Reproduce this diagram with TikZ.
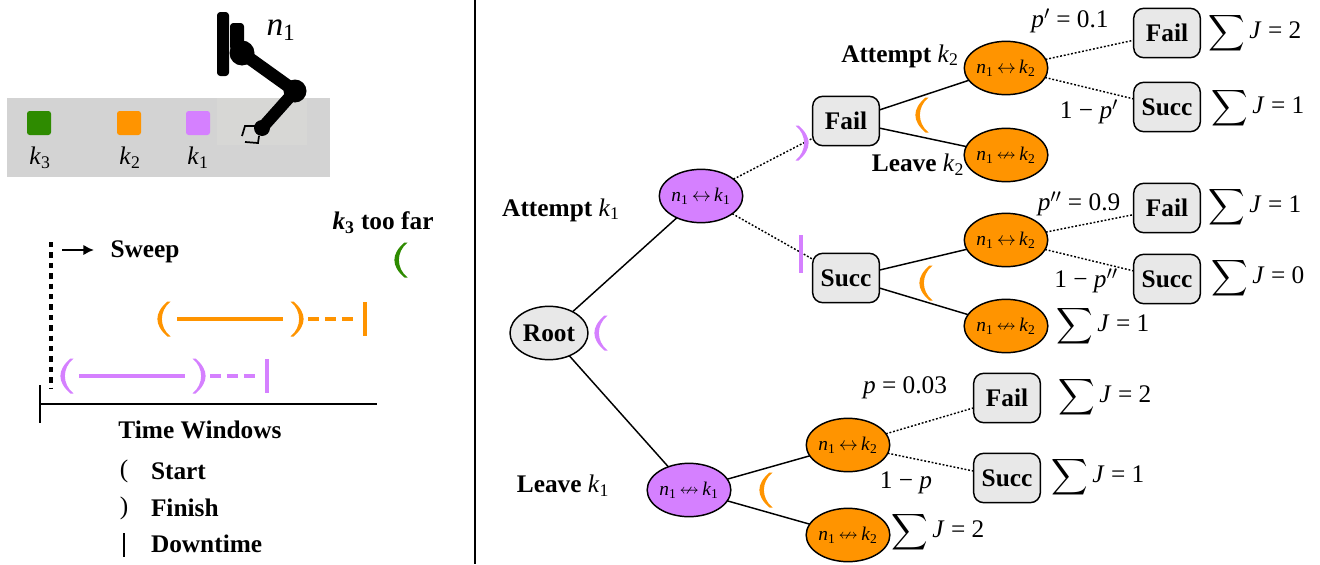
\documentclass[tikz,border=0pt]{standalone}
\usepackage{amssymb}
\usepackage{fontspec}
\setmainfont{Liberation Serif}
\usetikzlibrary{shapes.geometric,arrows.meta}
\definecolor{kgreen}{HTML}{2E8B00}
\definecolor{korange}{HTML}{FF9400}
\definecolor{kpurple}{HTML}{D580FF}
\definecolor{nodegray}{HTML}{E8E8E8}
\definecolor{bandgray}{HTML}{D3D3D3}
\definecolor{bandlight}{HTML}{D7D7D5}
\newcommand\iv[2]{\textit{#1}\textsubscript{#2}}
\newcommand\linked[1]{\iv{n}{1}\,$\leftrightarrow$\,\iv{k}{#1}}
\newcommand\unlinked[1]{\iv{n}{1}\,$\nleftrightarrow$\,\iv{k}{#1}}
\newcommand\cost[1]{$\displaystyle\sum$\,\textit{J} = #1}
\tikzset{
  x=0.75pt,y=-0.75pt,
  every node/.style={inner sep=0pt,outer sep=0pt,font=\fontsize{19}{22}\selectfont},
  label/.style={font=\fontsize{19}{22}\selectfont\bfseries},
  plain/.style={font=\fontsize{19}{22}\selectfont},
  decision/.style={draw=black,line width=1.1pt,ellipse,minimum width=58.5pt,minimum height=40pt,font=\fontsize{14.5}{16}\selectfont},
  decisiona/.style={decision,fill=kpurple},
  decisionb/.style={decision,fill=korange},
  rootnode/.style={decision,fill=nodegray,font=\fontsize{19}{22}\selectfont\bfseries},
  outcome/.style={draw=black,line width=1.1pt,rounded corners=7.5pt,fill=nodegray,minimum width=50pt,minimum height=37pt,font=\fontsize{19}{22}\selectfont\bfseries},
  choice/.style={draw=black,line width=1.1pt},
  chance/.style={draw=black,line width=1.1pt,dash pattern=on 1.4pt off 1.4pt},
  bar/.style={line width=3.2pt},
  span/.style={line width=2.6pt},
  gap/.style={line width=2.6pt,dash pattern=on 8pt off 4.7pt},
  pics/lbracket/.style={code={
    \fill[#1] (4.5,-17.5) .. controls (-7,-8) and (-7,8) .. (4.5,17.5)
      -- (1.5,17.5) .. controls (-12,6) and (-12,-6) .. (1.5,-17.5) -- cycle;}},
  pics/rbracket/.style={code={
    \fill[#1] (-4.5,-17.5) .. controls (7,-8) and (7,8) .. (-4.5,17.5)
      -- (-1.5,17.5) .. controls (12,6) and (12,-6) .. (-1.5,-17.5) -- cycle;}},
}
\begin{document}
\begin{tikzpicture}
\useasboundingbox (0,0) rectangle (1320,564);

% work surface with the three items
\fill[bandgray] (7,98) rectangle (330,177);
\fill[bandlight] (217,98) rectangle (307,145);
\fill[kgreen,rounded corners=2pt] (27,111) rectangle (51,135);
\fill[korange,rounded corners=2pt] (117,111) rectangle (141,135);
\fill[kpurple,rounded corners=2pt] (186,111) rectangle (210,135);
\node[plain] (k3) at (40,158) {\iv{k}{3}};
\node[plain] (k2) at (130,158) {\iv{k}{2}};
\node[plain] (k1) at (198,158) {\iv{k}{1}};

% robot arm
\fill[black,rounded corners=2.5pt] (217,12) rectangle (229,76);
\fill[black,rounded corners=2.5pt] (230,23) rectangle (244,50);
\draw[black,line width=9.5pt] (242,53) -- (295,91);
\draw[black,line width=9pt] (295,91) -- (262,128);
\fill[black] (242,53) circle [radius=12.5];
\fill[black] (295,91) circle [radius=11.5];
\fill[black] (262,128) circle [radius=8];
\draw[black,line width=1.3pt] (256,126) -- (245,126) -- (242,136);
\draw[black,line width=1.3pt] (259,136) -- (258,143) -- (245,142);
\node[font=\fontsize{25}{28}\selectfont] (n1) at (281,30) {\iv{n}{1}};

% sweep over the time windows
\draw[black,line width=2.3pt,dash pattern=on 4pt off 3.8pt] (51,242) -- (51,388);
\draw[black,line width=1.7pt,-{Latex[length=8pt,width=8pt]}] (62,250) -- (94,250);
\node[label] (sweep) at (145,252) {Sweep};
\node[label] (toofar) at (383,223) {\iv{k}{3} too far};
\pic at (403,260) {lbracket=kgreen};

\pic at (166,319) {lbracket=korange};
\draw[korange,span] (177,319) -- (283,319);
\pic at (295,319) {rbracket=korange};
\draw[korange,gap] (308,319) -- (354,319);
\draw[korange,bar] (365,302) -- (365,336);

\pic at (69,376) {lbracket=kpurple};
\draw[kpurple,span] (79,376) -- (185,376);
\pic at (197,376) {rbracket=kpurple};
\draw[kpurple,gap] (210,376) -- (256,376);
\draw[kpurple,bar] (267,359) -- (267,393);

\draw[black,line width=2.2pt] (40,404) -- (377,404);
\draw[black,line width=2.2pt] (40,385) -- (40,423);
\node[label] (windows) at (200,430) {Time Windows};

% legend of the window marks
\node[plain] (ls) at (124,471) {(};
\node[label,anchor=west] (start) at (151,471) {Start};
\node[plain] (lf) at (124,508) {)};
\node[label,anchor=west] (finish) at (151,508) {Finish};
\draw[black,line width=1pt] (124,533) -- (124,557);
\node[label,anchor=west] (down) at (151,544) {Downtime};

\draw[black,line width=0.8pt] (475,0) -- (475,564);

% decision tree
\node[rootnode] (root) at (549,333) {Root};
\node[decisiona] (a1) at (701,196) {\linked{1}};
\node[decisiona] (l1) at (689,490) {\unlinked{1}};
\node[outcome] (f1) at (846,121) {Fail};
\node[outcome] (s1) at (846,278) {Succ};
\node[decisionb] (a2) at (1006,68) {\linked{2}};
\node[decisionb] (l2) at (1006,155) {\unlinked{2}};
\node[decisionb] (a3) at (1006,240) {\linked{2}};
\node[decisionb] (l3) at (1006,326) {\unlinked{2}};
\node[decisionb] (a4) at (848,445) {\linked{2}};
\node[decisionb] (l4) at (848,535) {\unlinked{2}};
\node[outcome] (ff) at (1167,33) {Fail};
\node[outcome] (fs) at (1167,107) {Succ};
\node[outcome] (sf) at (1167,208) {Fail};
\node[outcome] (ss) at (1167,279) {Succ};
\node[outcome] (lf2) at (1007,398) {Fail};
\node[outcome] (ls2) at (1007,478) {Succ};

\draw[choice] (root) -- (a1);
\draw[choice] (root) -- (l1);
\draw[chance] (a1) -- (f1);
\draw[chance] (a1) -- (s1);
\draw[choice] (f1) -- (a2);
\draw[choice] (f1) -- (l2);
\draw[choice] (s1) -- (a3);
\draw[choice] (s1) -- (l3);
\draw[choice] (l1) -- (a4);
\draw[choice] (l1) -- (l4);
\draw[chance] (a2) -- (ff);
\draw[chance] (a2) -- (fs);
\draw[chance] (a3) -- (sf);
\draw[chance] (a3) -- (ss);
\draw[chance] (a4) -- (lf2);
\draw[chance] (a4) -- (ls2);

% window marks on the branches
\pic at (603,333) {lbracket=kpurple};
\pic at (800,143) {rbracket=kpurple};
\draw[kpurple,line width=3pt] (801,235) -- (801,273);
\pic at (924,115) {lbracket=korange};
\pic at (928,283) {lbracket=korange};
\pic at (768,490) {lbracket=korange};

% branch labels
\node[label] (ta1) at (561,210) {Attempt \mdseries\iv{k}{1}};
\node[label] (tl1) at (563,486) {Leave \mdseries\iv{k}{1}};
\node[label] (ta2) at (900,56) {Attempt \mdseries\iv{k}{2}};
\node[label] (tl2) at (918,165) {Leave \mdseries\iv{k}{2}};
\node[plain] (p1) at (1070,21) {\textit{p}$'$ = 0.1};
\node[plain] (q1) at (1089,112) {1 − \textit{p}$'$};
\node[plain] (p2) at (1079,204) {\textit{p}$''$ = 0.9};
\node[plain] (q2) at (1086,281) {1 − \textit{p}$''$};
\node[plain] (p3) at (905,388) {\textit{p} = 0.03};
\node[plain] (q3) at (906,483) {1 − \textit{p}};

% accumulated costs at the leaves
\node[plain] (c1) at (1255,33) {\cost{2}};
\node[plain] (c2) at (1258,108) {\cost{1}};
\node[plain] (c3) at (1255,207) {\cost{1}};
\node[plain] (c4) at (1258,278) {\cost{0}};
\node[plain] (c5) at (1103,326) {\cost{1}};
\node[plain] (c6) at (1105,397) {\cost{2}};
\node[plain] (c7) at (1098,477) {\cost{1}};
\node[plain] (c8) at (938,532) {\cost{2}};
\end{tikzpicture}
\end{document}
